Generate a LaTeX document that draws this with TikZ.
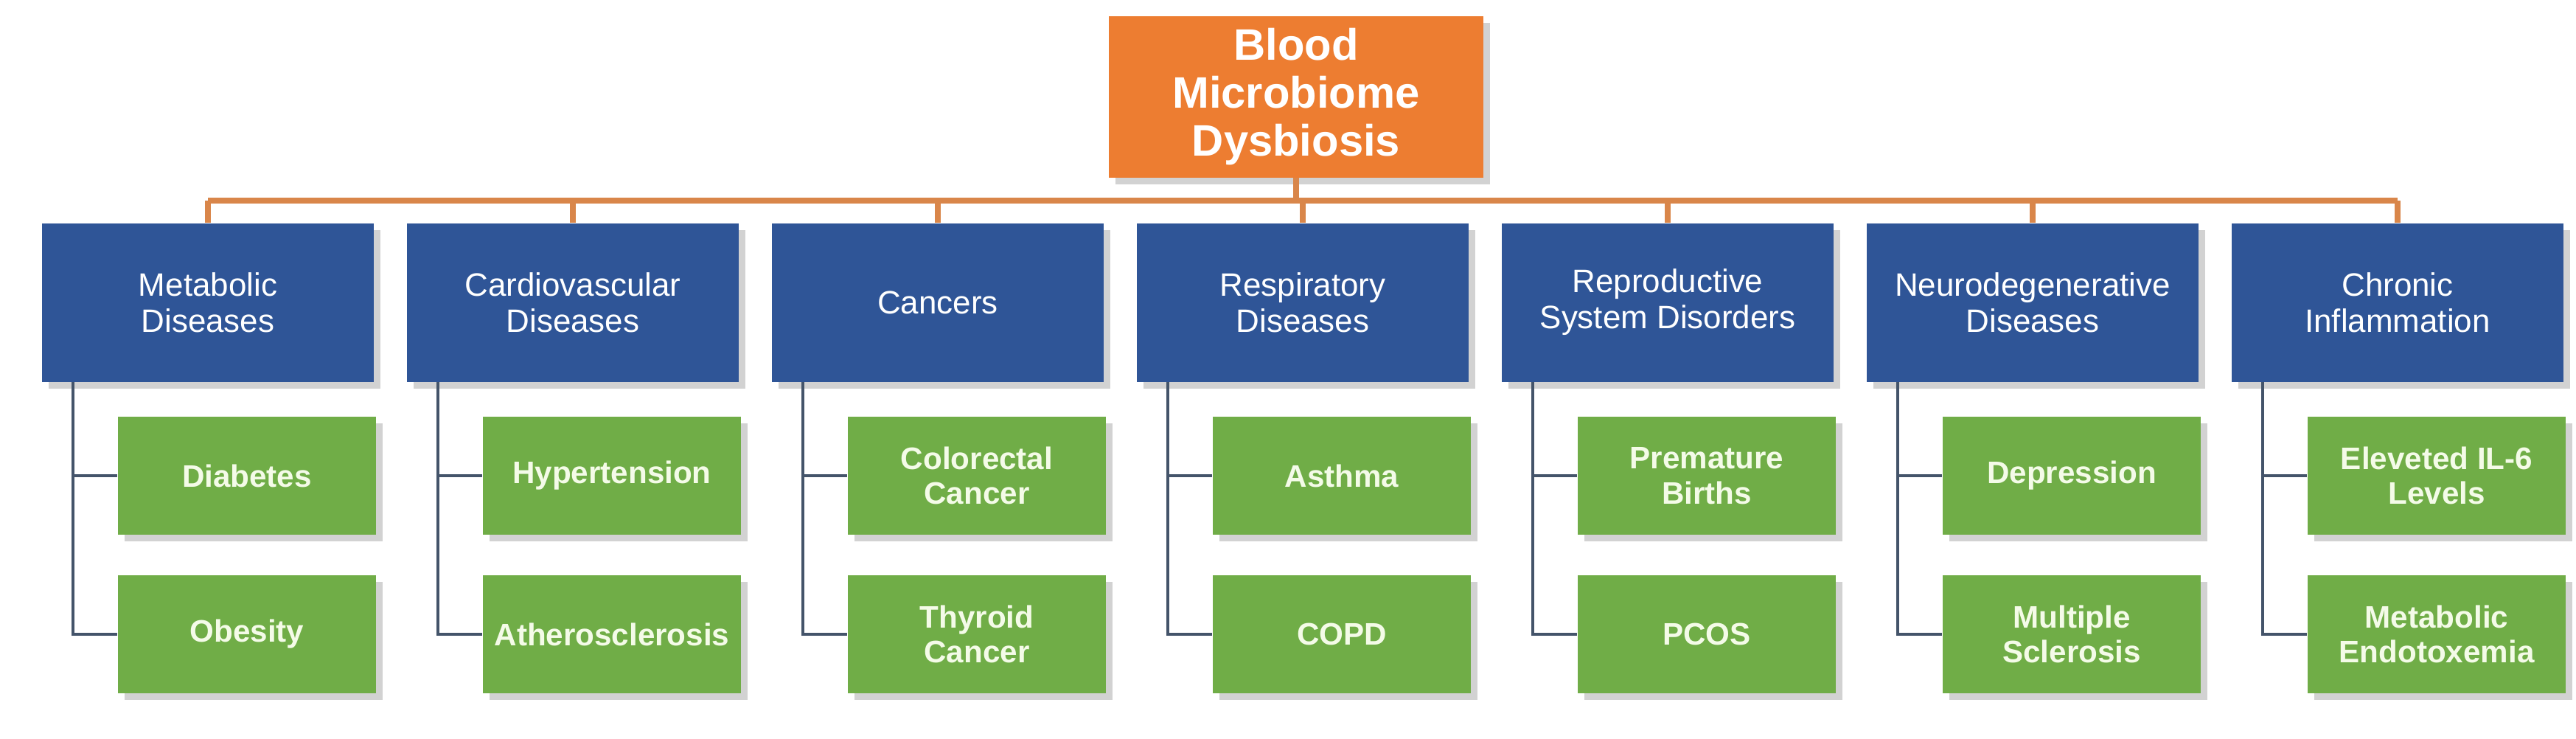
\documentclass[tikz,border=0pt]{standalone}
\usepackage{fontspec}
\setmainfont{Liberation Sans}
\usetikzlibrary{shadows}
\definecolor{orng}{HTML}{ED7D31}
\definecolor{blu}{HTML}{2F5597}
\definecolor{grn}{HTML}{70AD47}
\definecolor{oline}{HTML}{D9864A}
\definecolor{bline}{HTML}{44546A}
\definecolor{gtxt}{HTML}{F4FBE8}
\tikzset{
  root/.style={fill=orng, text=white, font=\bfseries\fontsize{17}{18.5}\selectfont, align=center,
    minimum width=5.08cm, minimum height=2.19cm, inner sep=0pt, drop shadow={opacity=0.35}},
  cat/.style={fill=blu, text=white, font=\fontsize{12.5}{14}\selectfont, align=center,
    minimum width=4.5cm, minimum height=2.15cm, inner sep=0pt, drop shadow={opacity=0.35}},
  leaf/.style={fill=grn, text=gtxt, font=\bfseries\fontsize{12}{13.5}\selectfont, align=center,
    minimum width=3.5cm, minimum height=1.6cm, inner sep=0pt, drop shadow={opacity=0.35}},
  oconn/.style={draw=oline, line width=2.2pt},
  bconn/.style={draw=bline, line width=1.2pt}
}
\begin{document}
\begin{tikzpicture}[x=1cm,y=1cm]
\useasboundingbox (0,0) rectangle (34.94,-10.01);
\fill[white] (0,0) rectangle (34.94,-10.01);
\node[root] (root) at (17.58,-1.31) {Blood\\Microbiome\\Dysbiosis};
\coordinate (bus) at (17.58,-2.72);
\draw[oconn] (root.south) -- (bus);
\foreach \i/\t/\a/\b in {
 0/{Metabolic\\Diseases}/{Diabetes}/{Obesity},
 1/{Cardiovascular\\Diseases}/{Hypertension}/{Atherosclerosis},
 2/{Cancers}/{Colorectal\\Cancer}/{Thyroid\\Cancer},
 3/{Respiratory\\Diseases}/{Asthma}/{COPD},
 4/{Reproductive\\System Disorders}/{Premature\\Births}/{PCOS},
 5/{Neurodegenerative\\Diseases}/{Depression}/{Multiple\\Sclerosis},
 6/{Chronic\\Inflammation}/{Eleveted IL-6\\Levels}/{Metabolic\\Endotoxemia}}{
  \pgfmathsetmacro{\cx}{2.82+4.95*\i}
  \pgfmathsetmacro{\lx}{\cx-2.25+1.03+1.75}
  \pgfmathsetmacro{\vx}{\cx-2.25+0.42}
  \node[cat] (c\i) at (\cx,-4.1) {\t};
  \node[leaf] (a\i) at (\lx,-6.45) {\a};
  \node[leaf] (b\i) at (\lx,-8.6) {\b};
  \coordinate (t\i) at (\cx,-2.72);
  \coordinate (v\i) at (\vx,-5.175);
  \draw[oconn] (t\i) -- (c\i.north);
  \draw[bconn] (v\i) |- (a\i.west);
  \draw[bconn] (v\i) |- (b\i.west);
}
\draw[oconn] (t0) -- (t6);
\end{tikzpicture}
\end{document}
